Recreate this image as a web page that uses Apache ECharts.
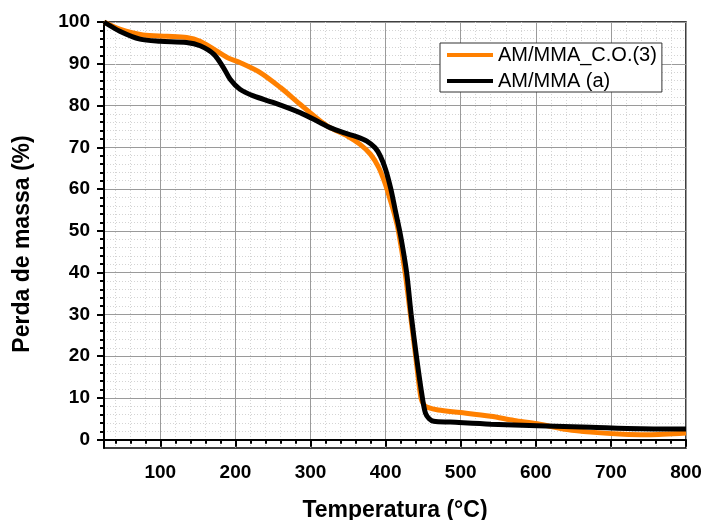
<!DOCTYPE html>
<html>
<head>
<meta charset="utf-8">
<script src="https://cdn.jsdelivr.net/npm/echarts@6/dist/echarts.min.js"></script>
<style>
  html, body { margin: 0; padding: 0; background: #fff; }
  #chart { width: 702px; height: 520px; }
</style>
</head>
<body>
<div id="chart"></div>
<script>
// TGA curves: mass (%) versus temperature (°C)
const seriesNames = ['AM/MMA_C.O.(3)', 'AM/MMA (a)'];

const tempCO = [25, 46, 77, 109, 135, 153, 171, 189, 206, 233, 260, 286, 313, 326, 349, 366, 380, 391, 400, 406, 412, 417, 426, 433, 440, 447, 451, 455, 470, 500, 540, 571, 602, 642, 673, 717, 749, 800];
const massCO = [100, 98.3, 96.9, 96.6, 96.3, 95.4, 93.5, 91.5, 90.3, 87.9, 84.3, 80.3, 76.3, 74.7, 72.7, 70.7, 68.3, 65.1, 61, 57.5, 53.8, 50, 40, 30, 20, 10, 8.3, 7.8, 7.1, 6.5, 5.6, 4.6, 3.8, 2.4, 1.8, 1.3, 1.2, 1.6];

const tempA = [25, 46, 73, 100, 135, 153, 171, 184, 193, 206, 224, 251, 286, 313, 326, 344, 362, 375, 386, 393, 400, 407, 413, 420, 428, 434, 441, 449, 453, 458, 464, 486, 540, 602, 673, 740, 800];
const massA = [100, 97.8, 95.9, 95.4, 95.1, 94.3, 92.3, 89.1, 86.3, 83.9, 82.3, 80.7, 78.3, 75.9, 74.7, 73.5, 72.5, 71.5, 69.9, 67.9, 64.7, 60, 54.8, 48.8, 40, 30, 20, 10, 6.4, 5, 4.4, 4.2, 3.7, 3.35, 2.96, 2.6, 2.55];

const xMajorTicks = [100, 200, 300, 400, 500, 600, 700, 800];
const yMajorTicks = [0, 10, 20, 30, 40, 50, 60, 70, 80, 90, 100];

const X_MIN = 25, X_MAX = 800, Y_MIN = -2, Y_MAX = 100;

const xMinorTicks = [];
for (let v = 40; v <= 780; v += 20) if (v % 100 !== 0) xMinorTicks.push(v);
const yMinorTicks = [];
for (let v = 2; v <= 98; v += 2) if (v % 10 !== 0) yMinorTicks.push(v);

const FONT = '"Liberation Sans", Arial, Helvetica, sans-serif';

function pairs(xs, ys) {
  return xs.map((x, i) => [x, ys[i]]);
}

const tickFont = { fontFamily: FONT, fontSize: 19, fontWeight: 'bold', color: '#000' };
const titleFont = { fontFamily: FONT, fontSize: 23, fontWeight: 'bold', color: '#000' };

const chart = echarts.init(document.getElementById('chart'), null, { renderer: 'canvas' });

chart.setOption({
  animation: false,
  backgroundColor: '#fff',
  grid: {
    left: 104, top: 22, right: 16, bottom: 72,
    outerBoundsMode: 'none',
    show: true, borderColor: '#000', borderWidth: 1.5, backgroundColor: 'transparent'
  },
  legend: {
    data: seriesNames,
    orient: 'vertical',
    left: 440, top: 43,
    padding: [1, 5, 0, 7],
    icon: 'rect',
    itemWidth: 46, itemHeight: 4, itemGap: 4,
    backgroundColor: '#fff',
    borderColor: '#333', borderWidth: 1,
    textStyle: { fontFamily: FONT, fontSize: 20, color: '#000', lineHeight: 22 }
  },
  xAxis: [
    {
      type: 'value', min: X_MIN, max: X_MAX, position: 'bottom',
      name: 'Temperatura (°C)', nameLocation: 'middle', nameGap: 51,
      nameTextStyle: titleFont,
      axisLine: { show: true, lineStyle: { color: '#000', width: 2 } },
      axisTick: { show: true, customValues: xMajorTicks, length: 7, lineStyle: { color: '#000', width: 2 } },
      axisLabel: Object.assign({ customValues: xMajorTicks, margin: 15 }, tickFont),
      splitLine: { show: true, lineStyle: { color: '#9a9a9a', width: 1 } }
    },
    {
      type: 'value', min: X_MIN, max: X_MAX, position: 'bottom',
      axisLine: { show: false },
      axisTick: { show: true, customValues: xMinorTicks, length: 4, lineStyle: { color: '#000', width: 2 } },
      axisLabel: { show: false, customValues: xMinorTicks },
      splitLine: { show: true, lineStyle: { color: '#d4d4d4', width: 1, type: [1, 2] } }
    }
  ],
  yAxis: [
    {
      type: 'value', min: Y_MIN, max: Y_MAX, position: 'left',
      name: 'Perda de massa (%)', nameLocation: 'middle', nameGap: 70, nameRotate: 90,
      nameTextStyle: Object.assign({ padding: [0, 18, 0, 0] }, titleFont),
      axisLine: { show: true, lineStyle: { color: '#000', width: 2 } },
      axisTick: { show: true, customValues: yMajorTicks, length: 7, lineStyle: { color: '#000', width: 2 } },
      axisLabel: Object.assign({ customValues: yMajorTicks, margin: 14 }, tickFont),
      splitLine: { show: true, lineStyle: { color: '#9a9a9a', width: 1 } }
    },
    {
      type: 'value', min: Y_MIN, max: Y_MAX, position: 'left',
      axisLine: { show: false },
      axisTick: { show: true, customValues: yMinorTicks, length: 4, lineStyle: { color: '#000', width: 2 } },
      axisLabel: { show: false, customValues: yMinorTicks },
      splitLine: { show: true, lineStyle: { color: '#d4d4d4', width: 1, type: [1, 2] } }
    }
  ],
  series: [
    {
      name: seriesNames[0], type: 'line', xAxisIndex: 0, yAxisIndex: 0,
      data: pairs(tempCO, massCO),
      symbol: 'none', smooth: 0.3,
      lineStyle: { color: '#ff8000', width: 5 }, itemStyle: { color: '#ff8000' }
    },
    {
      name: seriesNames[1], type: 'line', xAxisIndex: 0, yAxisIndex: 0,
      data: pairs(tempA, massA),
      symbol: 'none', smooth: 0.3,
      lineStyle: { color: '#000', width: 5 }, itemStyle: { color: '#000' }
    }
  ]
});
</script>
</body>
</html>
